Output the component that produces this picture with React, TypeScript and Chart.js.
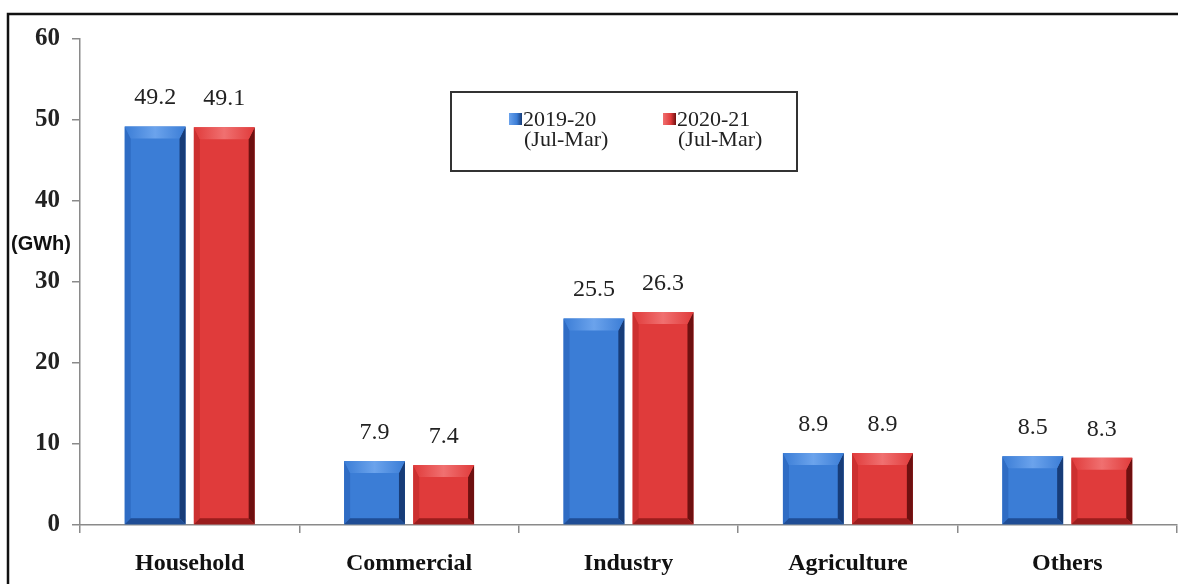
import React, { useEffect, useRef } from "react";
import { Chart, registerables } from "chart.js";

Chart.register(...registerables);

const categories = ["Household", "Commercial", "Industry", "Agriculture", "Others"];
const series2019 = [49.2, 7.9, 25.5, 8.9, 8.5];
const series2020 = [49.1, 7.4, 26.3, 8.9, 8.3];
const seriesNames = ["2019-20", "2020-21"];
const seriesSub = ["(Jul-Mar)", "(Jul-Mar)"];
const yMin = 0;
const yMax = 60;
const yStep = 10;
const unitLabel = "(GWh)";

const palettes = [
  { face: "#3b7dd6", top: "#6ba3ec", left: "#2f6cc4", right: "#173c78", bottom: "#1f4d95" },
  { face: "#e03b3b", top: "#f07070", left: "#cc3030", right: "#6e1010", bottom: "#9a1d1d" },
];

const bevelPlugin = {
  id: "bevel",
  afterDatasetsDraw(chart: any) {
    const ctx = chart.ctx;
    chart.data.datasets.forEach((ds: any, di: number) => {
      const meta = chart.getDatasetMeta(di);
      const p = palettes[di];
      meta.data.forEach((el: any) => {
        const { x, y, base, width } = el.getProps(["x", "y", "base", "width"], true);
        const L = x - width / 2, R = x + width / 2, T = y, B = base;
        const bt = Math.min(12, (B - T) / 3), bs = 6, bb = 6;
        ctx.save();
        const poly = (pts: number[][], color: any) => {
          ctx.beginPath();
          ctx.moveTo(pts[0][0], pts[0][1]);
          for (let i = 1; i < pts.length; i++) ctx.lineTo(pts[i][0], pts[i][1]);
          ctx.closePath();
          ctx.fillStyle = color;
          ctx.fill();
        };
        poly([[L, T], [L + bs, T + bt], [L + bs, B - bb], [L, B]], p.left);
        poly([[R, T], [R, B], [R - bs, B - bb], [R - bs, T + bt]], p.right);
        poly([[L, B], [R, B], [R - bs, B - bb], [L + bs, B - bb]], p.bottom);
        const g = ctx.createLinearGradient(L, 0, R, 0);
        g.addColorStop(0, p.face);
        g.addColorStop(0.5, p.top);
        g.addColorStop(1, p.face);
        poly([[L, T], [R, T], [R - bs, T + bt], [L + bs, T + bt]], g);
        ctx.restore();
      });
    });
  },
};

const labelPlugin = {
  id: "valueLabels",
  afterDatasetsDraw(chart: any) {
    const ctx = chart.ctx;
    ctx.save();
    ctx.font = "24px 'Liberation Serif', serif";
    ctx.fillStyle = "#222";
    ctx.textAlign = "center";
    ctx.textBaseline = "alphabetic";
    chart.data.datasets.forEach((ds: any, di: number) => {
      const meta = chart.getDatasetMeta(di);
      meta.data.forEach((el: any, i: number) => {
        ctx.fillText(Number(ds.data[i]).toFixed(1), el.x, el.y - 22);
      });
    });
    ctx.restore();
  },
};

const decorPlugin = {
  id: "decor",
  beforeDraw(chart: any) {
    const ctx = chart.ctx;
    ctx.save();
    ctx.fillStyle = "#ffffff";
    ctx.fillRect(0, 0, chart.width, chart.height);
    ctx.restore();
  },
  afterDraw(chart: any) {
    const ctx = chart.ctx;
    ctx.save();
    // outer frame
    ctx.strokeStyle = "#111";
    ctx.lineWidth = 2.5;
    ctx.beginPath();
    ctx.moveTo(8, chart.height + 2);
    ctx.lineTo(8, 14);
    ctx.lineTo(chart.width + 2, 14);
    ctx.stroke();
    // unit label
    ctx.font = "bold 20px 'Liberation Sans', Arial, sans-serif";
    ctx.fillStyle = "#111";
    ctx.textAlign = "left";
    ctx.textBaseline = "middle";
    ctx.fillText(unitLabel, 11, 244);
    // legend box
    ctx.strokeStyle = "#333";
    ctx.lineWidth = 2;
    ctx.strokeRect(451, 92, 346, 79);
    const starts = [523, 677];
    ctx.font = "22px 'Liberation Serif', serif";
    ctx.textBaseline = "alphabetic";
    seriesNames.forEach((name, i) => {
      const p = palettes[i];
      const tx = starts[i];
      const g = ctx.createLinearGradient(tx - 14, 0, tx - 1, 0);
      g.addColorStop(0, p.top);
      g.addColorStop(0.6, p.face);
      g.addColorStop(1, p.right);
      ctx.fillStyle = g;
      ctx.fillRect(tx - 14, 113, 13, 12);
      ctx.fillStyle = "#222";
      ctx.fillText(name, tx, 126);
      ctx.fillText(seriesSub[i], tx + 1, 146);
    });
    ctx.restore();
  },
};

export default function App() {
  const ref = useRef<HTMLCanvasElement | null>(null);
  useEffect(() => {
    document.body.style.margin = "0";
    const canvas = ref.current;
    if (!canvas) return;
    const chart = new Chart(canvas, {
      type: "bar",
      data: {
        labels: categories,
        datasets: [
          {
            label: seriesNames[0],
            data: series2019,
            backgroundColor: palettes[0].face,
            barPercentage: 0.88,
            categoryPercentage: 0.63,
          },
          {
            label: seriesNames[1],
            data: series2020,
            backgroundColor: palettes[1].face,
            barPercentage: 0.88,
            categoryPercentage: 0.63,
          },
        ],
      },
      options: {
        animation: false,
        responsive: false,
        maintainAspectRatio: false,
        events: [],
        layout: { padding: { top: 39, right: 1, left: 0, bottom: 0 } },
        plugins: {
          legend: { display: false },
          tooltip: { enabled: false },
          title: { display: false },
        },
        scales: {
          x: {
            offset: true,
            grid: { offset: true, drawOnChartArea: false, tickLength: 8, color: "#8a8a8a", lineWidth: 1.5 },
            border: { color: "#8a8a8a", width: 1.5 },
            ticks: {
              color: "#111",
              font: { family: "'Liberation Serif', serif", size: 24, weight: "bold" },
              padding: 16,
            },
            afterFit: (s: any) => {
              s.height = 59;
            },
          },
          y: {
            min: yMin,
            max: yMax,
            grid: { drawOnChartArea: false, tickLength: 8, color: "#8a8a8a", lineWidth: 1.5 },
            border: { color: "#8a8a8a", width: 1.5 },
            ticks: {
              stepSize: yStep,
              color: "#222",
              font: { family: "'Liberation Serif', serif", size: 25, weight: "bold" },
              padding: 12,
            },
            afterFit: (s: any) => {
              s.width = 80;
            },
          },
        },
      },
      plugins: [decorPlugin, bevelPlugin, labelPlugin],
    } as any);
    return () => chart.destroy();
  }, []);
  return (
    <div style={{ width: 1178, height: 584, position: "relative" }}>
      <canvas ref={ref} width={1178} height={584} style={{ display: "block", width: 1178, height: 584 }} />
    </div>
  );
}
